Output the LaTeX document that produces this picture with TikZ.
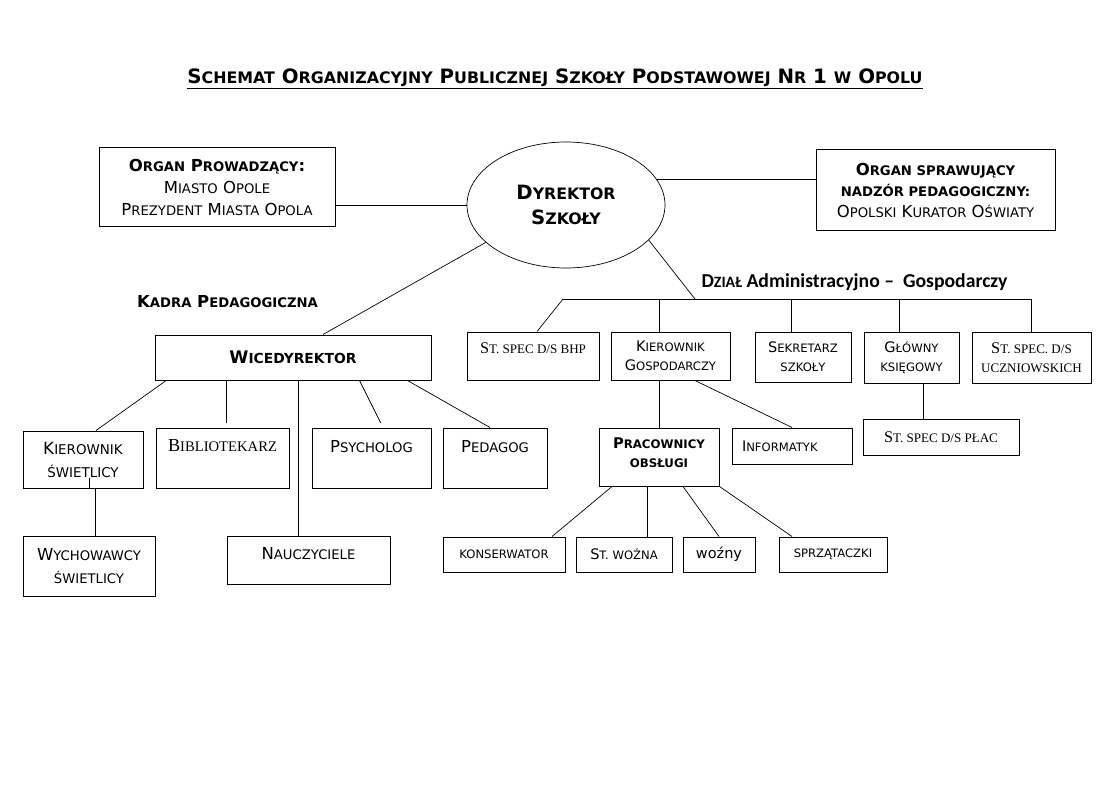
\documentclass[tikz,border=0pt]{standalone}
\usepackage{fontspec}
\setmainfont{DejaVu Sans}
\newfontfamily\serifx{Liberation Serif}
\newfontfamily\condx{Carlito}
\usetikzlibrary{calc,shapes.geometric}
\makeatletter
\newcommand\smc[1]{{\fontsize{\fpeval{0.8*\f@size}}{0}\selectfont\MakeUppercase{#1}}}
\makeatother
\begin{document}
\begin{tikzpicture}[x=1pt,y=-1pt,
  box/.style={draw, line width=1pt, rectangle, inner sep=0pt, align=center, font=\fontsize{16.5}{22}\selectfont},
  sbox/.style={box, font=\fontsize{14.5}{19}\selectfont},
  serbox/.style={box, font=\serifx\fontsize{16.3}{19}\selectfont},
  conn/.style={line width=0.7pt},
  lift/.style={text depth=#1}]
\fill[white] (0,0) rectangle (1104,789);
\useasboundingbox (0,0) rectangle (1104,789);

\node[font=\bfseries\fontsize{19.8}{22}\selectfont] (title) at (555,79)
 {\underline{S\smc{chemat} O\smc{rganizacyjny} P\smc{ublicznej} S\smc{zkoły} P\smc{odstawowej} N\smc{r} 1 \smc{w} O\smc{polu}}};

\node[box, minimum width=236pt, minimum height=79pt] (org) at (217,187.5)
 {{\bfseries O\smc{rgan} P\smc{rowadzący}:}\\ M\smc{iasto} O\smc{pole}\\ P\smc{rezydent} M\smc{iasta} O\smc{pola}};

\node[draw, ellipse, line width=0.7pt, inner sep=0pt, minimum width=198pt, minimum height=126pt, align=center,
 font=\bfseries\fontsize{19.7}{25}\selectfont] (dyr) at (566,205) {D\smc{yrektor}\\ S\smc{zkoły}};

\node[box, minimum width=239pt, minimum height=80pt, font=\fontsize{16.5}{21}\selectfont] (nadz) at (935.5,190)
 {{\bfseries O\smc{rgan sprawujący}}\\ {\bfseries\smc{nadzór pedagogiczny:}}\\ O\smc{polski} K\smc{urator} O\smc{światy}};

\node[font=\bfseries\fontsize{16.5}{20}\selectfont] (kadra) at (227.5,302) {K\smc{adra} P\smc{edagogiczna}};
\node[font=\condx\bfseries\fontsize{19.7}{22}\selectfont] (dzial) at (854.5,282) {D\smc{ział} Administracyjno – \ Gospodarczy};

% pedagogical part
\node[box, minimum width=276pt, minimum height=45pt, font=\bfseries\fontsize{17.3}{20}\selectfont] (wice) at (293,357.5) {W\smc{icedyrektor}};
\node[box, minimum width=120pt, minimum height=57pt, font=\fontsize{16.8}{23}\selectfont] (kswiet) at (83,459.5) {K\smc{ierownik}\\ \smc{świetlicy}};
\node[box, minimum width=133pt, minimum height=60pt, lift=24pt, font=\serifx\fontsize{18.3}{20}\selectfont] (bibl) at (222.5,458) {B\smc{ibliotekarz}};
\node[box, minimum width=119pt, minimum height=60pt, lift=24pt] (psych) at (371.5,458) {P\smc{sycholog}};
\node[box, minimum width=104pt, minimum height=60pt, lift=24pt] (ped) at (495,458) {P\smc{edagog}};
\node[box, minimum width=132pt, minimum height=60pt, font=\fontsize{16.5}{23}\selectfont] (wych) at (89,566) {W\smc{ychowawcy}\\ \smc{świetlicy}};
\node[box, minimum width=163pt, minimum height=48pt, lift=14pt] (naucz) at (308.5,560) {N\smc{auczyciele}};

% administrative part
\node[serbox, minimum width=132pt, minimum height=48pt, lift=16pt] (bhp) at (533,356) {S\smc{t. spec d/s bhp}};
\node[sbox, minimum width=119pt, minimum height=48pt] (kgosp) at (670.5,356) {K\smc{ierownik}\\ G\smc{ospodarczy}};
\node[sbox, minimum width=96pt, minimum height=50pt] (sekr) at (803,357) {S\smc{ekretarz}\\ \smc{szkoły}};
\node[sbox, minimum width=95pt, minimum height=51pt] (glow) at (911.5,357.5) {G\smc{łówny}\\ \smc{księgowy}};
\node[serbox, minimum width=119pt, minimum height=51pt] (uczn) at (1031.5,357.5) {S\smc{t. spec. d/s}\\ \smc{uczniowskich}};
\node[sbox, minimum width=120pt, minimum height=58pt, lift=9pt, font=\bfseries\fontsize{14.7}{19}\selectfont] (prac) at (659,457) {P\smc{racownicy}\\ \smc{obsługi}};
\node[sbox, minimum width=120pt, minimum height=36pt, text width=100pt, inner xsep=10pt, align=left] (inf) at (792,446) {I\smc{nformatyk}};
\node[serbox, minimum width=156pt, minimum height=36pt] (plac) at (941,437) {S\smc{t. spec d/s płac}};
\node[sbox, minimum width=122pt, minimum height=35pt] (kons) at (504,554.5) {\smc{konserwator}};
\node[sbox, minimum width=96pt, minimum height=35pt] (stw) at (624,554.5) {S\smc{t. woźna}};
\node[sbox, minimum width=72pt, minimum height=35pt] (wozny) at (719,554.5) {woźny};
\node[sbox, minimum width=108pt, minimum height=35pt] (sprz) at (833,554.5) {\smc{sprzątaczki}};

% top connectors
\draw[conn] (dyr.west) -- (dyr.west -| org.east);
\draw[conn] (dyr.16) -- (dyr.16 -| nadz.west);
\draw[conn] (dyr.205) -- ($(wice.north)+(30,0)$);
\coordinate (busL) at (563,299);
\coordinate (busJ) at (695,299);
\coordinate (busR) at (uczn.north |- busL);
\draw[conn] (dyr.337) -- (busJ);
\draw[conn] (busL) -- (busR);
\draw[conn] (busL) -- ($(bhp.north)+(4,0)$);
\path ($(kgosp.north)+(-11.5,0)$) coordinate (k1);
\draw[conn] (k1) -- (k1 |- busL);
\path ($(sekr.north)+(-12,0)$) coordinate (s1);
\draw[conn] (s1) -- (s1 |- busL);
\path ($(glow.north)+(-12.5,0)$) coordinate (g1);
\draw[conn] (g1) -- (g1 |- busL);
\draw[conn] (uczn.north) -- (busR);

% pedagogical connectors
\draw[conn] ($(wice.south west)+(11.7,0)$) -- ($(kswiet.north)+(13,0)$);
\path ($(wice.south west)+(72,0)$) coordinate (w2);
\draw[conn, shorten >=5pt] (w2) -- (w2 |- bibl.north);
\path ($(wice.south west)+(144,0)$) coordinate (w3);
\draw[conn] (w3) -- (w3 |- naucz.north);
\draw[conn, shorten >=5pt] ($(wice.south west)+(205,0)$) -- ($(psych.north)+(11.5,0)$);
\draw[conn] ($(wice.south west)+(253,0)$) -- ($(ped.north)+(-5,0)$);
\path ($(kswiet.south)+(12,0)$) coordinate (ks);
\draw[conn] (ks) -- (ks |- wych.north);
\draw[conn] ($(kswiet.south)+(6,0)$) -- ++(0,-11);

% administrative connectors
\draw[conn] (prac.north) -- (prac.north |- kgosp.south);
\draw[conn] ($(kgosp.south)+(24.5,0)$) -- (inf.north);
\path ($(glow.south)+(11.5,0)$) coordinate (g2);
\draw[conn] (g2) -- (g2 |- plac.north);
\draw[conn] ($(prac.south)+(-47,0)$) -- ($(kons.north)+(48,0)$);
\path ($(stw.north)+(23,0)$) coordinate (t1);
\draw[conn] (t1) -- (t1 |- prac.south);
\draw[conn] ($(prac.south)+(24,0)$) -- (wozny.north);
\draw[conn] (prac.south east) -- ($(sprz.north)+(-41,0)$);
\end{tikzpicture}
\end{document}
